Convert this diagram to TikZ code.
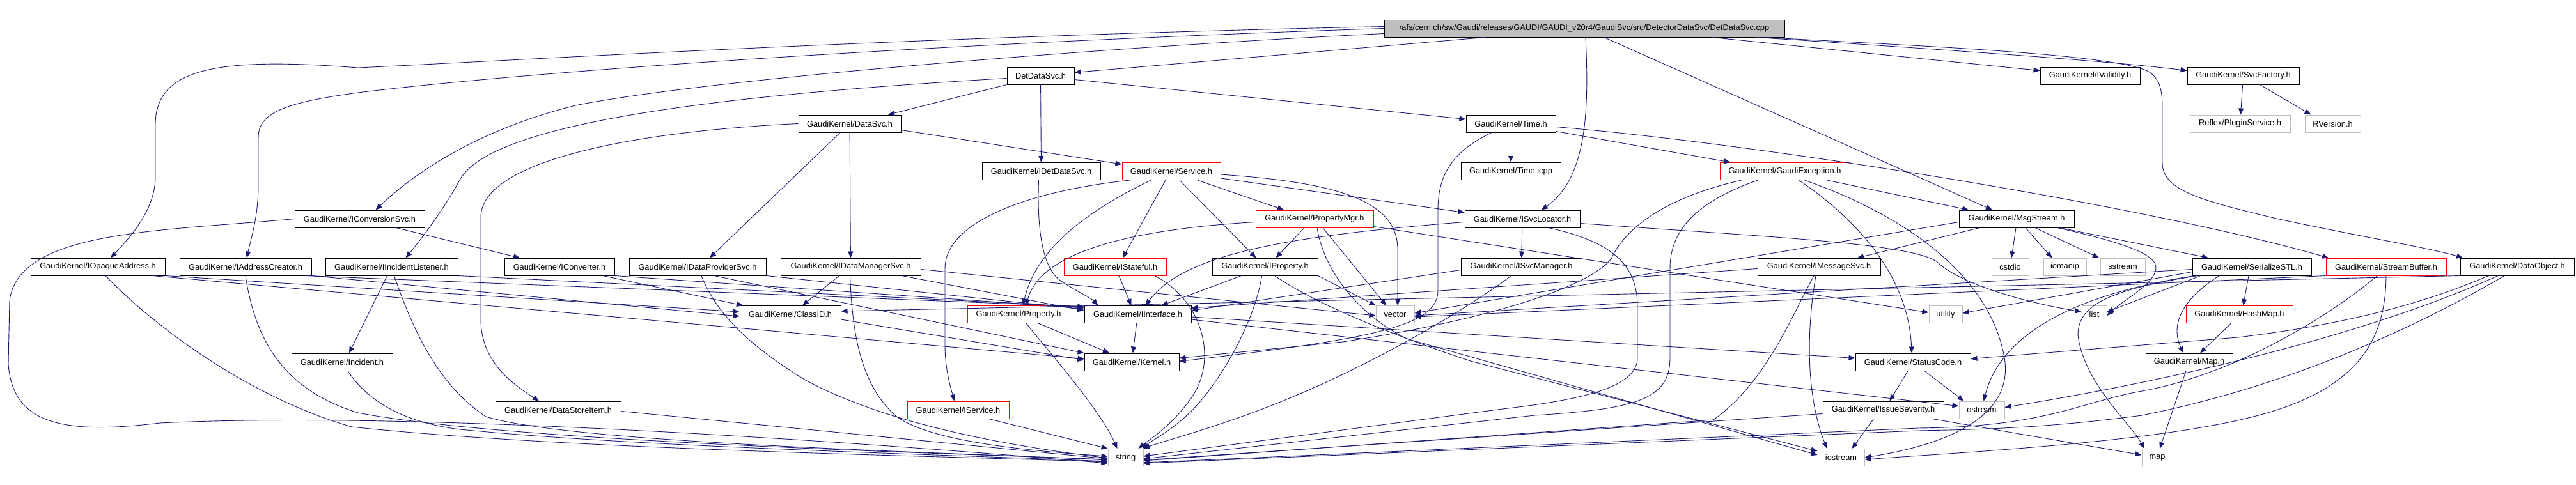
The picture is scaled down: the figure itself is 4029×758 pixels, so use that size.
\documentclass[tikz,border=0pt]{standalone}
\usepackage{fontspec}
\setmainfont{Liberation Sans}
\usetikzlibrary{arrows.meta}
\definecolor{edgeblue}{RGB}{25,25,112}
\definecolor{boxred}{RGB}{255,0,0}
\definecolor{boxgray}{RGB}{191,191,191}
\newcommand\dgfont{\fontsize{12.8}{14}\selectfont}
\tikzset{
 box/.style={draw=black, line width=1pt, rectangle, minimum height=27pt, inner sep=0pt, font=\dgfont},
 redbox/.style={box, draw=boxred},
 graybox/.style={box, draw=boxgray},
 edge/.style={draw=edgeblue, line width=0.9pt, -{Triangle[length=10pt,width=8pt]}},
}
\begin{document}
\begin{tikzpicture}[x=1pt,y=-1pt]
\useasboundingbox (0,0) rectangle (4029,758);
% row 0
\node[box,fill=boxgray,minimum width=626pt] (root) at (2478,44.5) {/afs/cern.ch/sw/Gaudi/releases/GAUDI/GAUDI\_v20r4/GaudiSvc/src/DetectorDataSvc/DetDataSvc.cpp};
% row 1
\node[box,minimum width=105pt] (detdatasvc) at (1627.5,118.5) {DetDataSvc.h};
\node[box,minimum width=156pt] (ivalidity) at (3269,118.5) {GaudiKernel/IValidity.h};
\node[box,minimum width=175pt] (svcfactory) at (3508.5,118.5) {GaudiKernel/SvcFactory.h};
% row 2
\node[box,minimum width=160pt] (datasvc) at (1329,193.5) {GaudiKernel/DataSvc.h};
\node[box,minimum width=140pt] (time) at (2363,193.5) {GaudiKernel/Time.h};
\node[graybox,minimum width=157pt] (plugin) at (3503.5,193.5) {Reflex/PluginService.h};
\node[graybox,minimum width=87pt] (rversion) at (3648.5,193.5) {RVersion.h};
% row 3
\node[box,minimum width=185pt] (idetdatasvc) at (1628.5,268) {GaudiKernel/IDetDataSvc.h};
\node[redbox,minimum width=154pt] (service) at (1832,268) {GaudiKernel/Service.h};
\node[box,minimum width=156pt] (timeicpp) at (2363,268) {GaudiKernel/Time.icpp};
\node[redbox,minimum width=203pt] (gaudiexc) at (2791.5,268) {GaudiKernel/GaudiException.h};
% row 4
\node[box,minimum width=203pt] (iconversion) at (562.5,342.5) {GaudiKernel/IConversionSvc.h};
\node[redbox,minimum width=184pt] (propertymgr) at (2056,342.5) {GaudiKernel/PropertyMgr.h};
\node[box,minimum width=180pt] (isvclocator) at (2381,342.5) {GaudiKernel/ISvcLocator.h};
\node[box,minimum width=180pt] (msgstream) at (3154,342.5) {GaudiKernel/MsgStream.h};
% row 5
\node[box,minimum width=210pt] (iopaque) at (153,417.5) {GaudiKernel/IOpaqueAddress.h};
\node[box,minimum width=206pt] (iaddress) at (384,417.5) {GaudiKernel/IAddressCreator.h};
\node[box,minimum width=207pt] (iincident) at (612.5,417.5) {GaudiKernel/IIncidentListener.h};
\node[box,minimum width=172pt] (iconverter) at (875,417.5) {GaudiKernel/IConverter.h};
\node[box,minimum width=214pt] (idataprov) at (1091,417.5) {GaudiKernel/IDataProviderSvc.h};
\node[box,minimum width=219pt] (idataman) at (1330.5,417.5) {GaudiKernel/IDataManagerSvc.h};
\node[redbox,minimum width=160pt] (istateful) at (1744,417.5) {GaudiKernel/IStateful.h};
\node[box,minimum width=165pt] (iproperty) at (1978.5,417.5) {GaudiKernel/IProperty.h};
\node[box,minimum width=189pt] (isvcman) at (2379.5,417.5) {GaudiKernel/ISvcManager.h};
\node[box,minimum width=192pt] (imessage) at (2845,417.5) {GaudiKernel/IMessageSvc.h};
\node[graybox,minimum width=58pt] (cstdio) at (3144,417.5) {cstdio};
\node[graybox,minimum width=67pt] (iomanip) at (3229.5,417.5) {iomanip};
\node[graybox,minimum width=70pt] (sstream) at (3320,417.5) {sstream};
\node[box,minimum width=186pt] (serialize) at (3522,417.5) {GaudiKernel/SerializeSTL.h};
\node[redbox,minimum width=188pt] (streambuf) at (3732,417.5) {GaudiKernel/StreamBuffer.h};
\node[box,minimum width=178pt] (dataobject) at (3937,417.5) {GaudiKernel/DataObject.h};
% row 6
\node[box,minimum width=158pt] (classid) at (1236,492) {GaudiKernel/ClassID.h};
\node[redbox,minimum width=160pt] (property) at (1593,492) {GaudiKernel/Property.h};
\node[box,minimum width=167pt] (iinterface) at (1779.5,492) {GaudiKernel/IInterface.h};
\node[graybox,minimum width=60pt] (vector) at (2182,492) {vector};
\node[graybox,minimum width=52pt] (utility) at (3043,492) {utility};
\node[graybox,minimum width=39pt] (list) at (3275.5,492) {list};
\node[redbox,minimum width=167pt] (hashmap) at (3502.5,492) {GaudiKernel/HashMap.h};
% row 7
\node[box,minimum width=158pt] (incident) at (535,566.5) {GaudiKernel/Incident.h};
\node[box,minimum width=148pt] (kernel) at (1770,566.5) {GaudiKernel/Kernel.h};
\node[box,minimum width=180pt] (statuscode) at (2992,566.5) {GaudiKernel/StatusCode.h};
\node[box,minimum width=136pt] (maph) at (3424,566.5) {GaudiKernel/Map.h};
% row 8
\node[box,minimum width=196pt] (datastore) at (873,641.5) {GaudiKernel/DataStoreItem.h};
\node[redbox,minimum width=159pt] (iservice) at (1498.5,641.5) {GaudiKernel/IService.h};
\node[box,minimum width=189pt] (issuesev) at (2945.5,641.5) {GaudiKernel/IssueSeverity.h};
\node[graybox,minimum width=71pt] (ostream) at (3099.5,641.5) {ostream};
% row 9
\node[graybox,minimum width=55pt] (string) at (1760.5,716) {string};
\node[graybox,minimum width=73pt] (iostream) at (2879.5,716) {iostream};
\node[graybox,minimum width=48pt] (map) at (3374,716) {map};

% ---- root
\draw[edge] ([yshift=3pt]root.west) .. controls (1400,58) and (800,95) .. (560,106) .. controls (330,88) and (245,110) .. (243,193) -- (243,277) .. controls (243,330) and (200,375) .. ([xshift=20pt]iopaque.north);
\draw[edge] (root.west) .. controls (1400,70) and (800,115) .. (560,145) .. controls (450,160) and (404,175) .. (404,215) -- (404,290) .. controls (404,340) and (392,375) .. ([xshift=2pt]iaddress.north);
\draw[edge] ([yshift=-8pt]root.west) .. controls (1700,75) and (1100,125) .. (900,165) .. controls (760,200) and (660,260) .. ([xshift=25pt]iconversion.north);
\draw[edge] ([xshift=-156pt]root.south) -- ([yshift=5pt]detdatasvc.east);
\draw[edge] ([xshift=2pt]root.south) .. controls (2486,180) and (2480,280) .. ([xshift=30pt]isvclocator.north);
\draw[edge] ([xshift=31pt]root.south) -- ([xshift=-38pt]msgstream.north);
\draw[edge] ([xshift=200pt]root.south) -- ([yshift=8pt]ivalidity.west);
\draw[edge] ([xshift=270pt]root.south) .. controls (3000,75) and (3300,95) .. ([yshift=8pt]svcfactory.west);
\draw[edge] ([xshift=283pt]root.south) .. controls (3000,72) and (3330,85) .. (3365,115) .. controls (3382,130) and (3382,150) .. (3382,180) -- (3382,255) .. controls (3382,300) and (3450,315) .. (3560,342) .. controls (3700,372) and (3800,388) .. ([xshift=-85pt]dataobject.north);
% ---- DetDataSvc
\draw[edge] (detdatasvc.south west) -- ([xshift=60pt]datasvc.north);
\draw[edge] (detdatasvc) -- (idetdatasvc);
\draw[edge] ([yshift=-6pt]detdatasvc.east) -- ([yshift=7pt]time.west);
\draw[edge] ([yshift=-4pt]detdatasvc.west) .. controls (1100,150) and (770,195) .. (720,280) .. controls (690,335) and (650,385) .. ([xshift=22pt]iincident.north);
% ---- DataSvc
\draw[edge] (datasvc.west) .. controls (1000,205) and (752,250) .. (752,340) -- (752,500) .. controls (752,565) and (800,600) .. ([xshift=-30pt]datastore.north);
\draw[edge] ([xshift=-15pt]datasvc.south) -- ([xshift=19pt]idataprov.north);
\draw[edge] (datasvc) -- (idataman);
\draw[edge] ([yshift=-10pt]datasvc.east) -- ([yshift=11pt]service.west);
% ---- SvcFactory
\draw[edge] (svcfactory) -- (plugin);
\draw[edge] ([xshift=26pt]svcfactory.south) -- ([xshift=-34pt]rversion.north);
% ---- Time
\draw[edge] (time) -- (timeicpp);
\draw[edge] ([yshift=-12pt]time.east) -- ([xshift=-85pt]gaudiexc.north);
\draw[edge] ([yshift=-5pt]time.east) .. controls (2750,225) and (3350,320) .. ([xshift=-90pt]streambuf.north);
\draw[edge] ([xshift=-30pt]time.south) .. controls (2265,240) and (2249,280) .. (2249,330) -- (2249,455) .. controls (2249,510) and (2150,530) .. ([yshift=1pt]kernel.east);
% ---- IDetDataSvc
\draw[edge] ([xshift=-4pt]idetdatasvc.south) .. controls (1622,350) and (1628,420) .. (1660,440) .. controls (1685,457) and (1705,465) .. ([xshift=-62pt]iinterface.north);
% ---- Service
\draw[edge] ([xshift=-65pt]service.south) .. controls (1600,300) and (1478,350) .. (1478,420) -- (1478,540) .. controls (1478,580) and (1488,610) .. ([xshift=-6pt]iservice.north);
\draw[edge] ([xshift=-32pt]service.south) .. controls (1700,330) and (1620,390) .. ([xshift=7pt]property.north);
\draw[edge] ([xshift=-9pt]service.south) -- ([xshift=12pt]istateful.north);
\draw[edge] ([xshift=13pt]service.south) -- ([xshift=-14pt]iproperty.north);
\draw[edge] ([xshift=41pt]service.south) -- ([xshift=-48pt]propertymgr.north);
\draw[edge] ([yshift=-5pt]service.east) .. controls (2080,285) and (2186,310) .. (2186,390) -- ([xshift=4pt]vector.north);
\draw[edge] ([yshift=-11pt]service.east) -- ([yshift=10pt]isvclocator.west);
% ---- PropertyMgr
\draw[edge] ([yshift=-5pt]propertymgr.west) .. controls (1750,360) and (1625,400) .. ([xshift=12pt]property.north);
\draw[edge] ([xshift=-16pt]propertymgr.south) -- ([xshift=17pt]iproperty.north);
\draw[edge] ([xshift=13pt]propertymgr.south) -- ([xshift=-14pt]vector.north);
\draw[edge] ([xshift=4pt]propertymgr.south) .. controls (2070,420) and (2120,490) .. (2200,530) -- ([yshift=4pt]iostream.west);
\draw[edge] ([yshift=-12pt]propertymgr.east) -- ([yshift=3pt]utility.west);
% ---- ISvcLocator
\draw[edge] (isvclocator) -- (isvcman);
\draw[edge] ([yshift=-5pt]isvclocator.west) .. controls (2000,370) and (1850,400) .. ([xshift=12pt]iinterface.north);
\draw[edge] ([xshift=41pt]isvclocator.south) .. controls (2530,380) and (2561,420) .. (2561,480) -- (2561,560) .. controls (2561,605) and (2480,625) .. (2350,640) -- ([yshift=2pt]string.east);
\draw[edge] ([yshift=-7pt]isvclocator.east) .. controls (2750,370) and (2990,380) .. (3030,410) .. controls (3060,440) and (3150,470) .. ([yshift=4pt]list.west);
% ---- GaudiException
\draw[edge] ([xshift=66pt]gaudiexc.south) -- ([xshift=-75pt]msgstream.north);
\draw[edge] ([xshift=22pt]gaudiexc.south) .. controls (2900,340) and (2985,430) .. ([xshift=-2pt]statuscode.north);
\draw[edge] ([xshift=31pt]gaudiexc.south) .. controls (2960,330) and (3110,420) .. (3135,560) .. controls (3150,650) and (3050,695) .. (iostream.east);
\draw[edge] ([xshift=-42pt]gaudiexc.south) .. controls (2640,320) and (2612,370) .. (2612,420) -- (2612,560) .. controls (2612,625) and (2560,640) .. (2400,650) -- ([yshift=-2pt]string.east);
\draw[edge] ([xshift=-68pt]gaudiexc.south) .. controls (2600,310) and (2540,360) .. (2520,405) .. controls (2480,455) and (2300,505) .. (2100,535) -- ([yshift=6pt]kernel.east);
% ---- MsgStream
\draw[edge] ([xshift=-58pt]msgstream.south) -- ([xshift=60pt]imessage.north);
\draw[edge] ([xshift=-1pt]msgstream.south) -- (cstdio);
\draw[edge] ([xshift=14pt]msgstream.south) -- ([xshift=-20pt]iomanip.north);
\draw[edge] ([xshift=29pt]msgstream.south) -- ([xshift=-37pt]sstream.north);
\draw[edge] ([xshift=68pt]msgstream.south) -- ([xshift=-68pt]serialize.north);
\draw[edge] ([yshift=-5pt]msgstream.west) -- ([yshift=2pt]vector.east);
\draw[edge] ([xshift=64pt]msgstream.south) .. controls (3300,375) and (3375,395) .. (3372,420) .. controls (3370,445) and (3320,470) .. ([yshift=-2pt]list.east);
% ---- SerializeSTL
\draw[edge] ([xshift=-5pt]serialize.south) -- ([xshift=6pt]hashmap.north);
\draw[edge] ([xshift=-51pt]serialize.south) .. controls (3410,470) and (3395,510) .. ([xshift=-9pt]maph.north);
\draw[edge] ([xshift=-90pt]serialize.south) .. controls (3250,460) and (3130,520) .. ([xshift=3pt]ostream.north);
\draw[edge] ([xshift=-80pt]serialize.south) -- ([yshift=4pt]list.east);
\draw[edge] ([yshift=-8pt]serialize.west) -- ([yshift=2pt]utility.east);
\draw[edge] ([yshift=-4pt]serialize.west) -- ([yshift=-2pt]vector.east);
\draw[edge] ([xshift=-85pt]serialize.south) .. controls (3290,455) and (3250,480) .. (3250,525) .. controls (3260,600) and (3330,660) .. ([xshift=-20pt]map.north);
% ---- StreamBuffer
\draw[edge] (streambuf.south) .. controls (3731,520) and (3700,600) .. (3550,645) .. controls (3400,690) and (3100,706) .. ([yshift=-3pt]iostream.east);
\draw[edge] ([xshift=-14pt]streambuf.south) .. controls (3650,490) and (3500,585) .. (3350,612) .. controls (3250,630) and (3200,668) .. (3000,670) -- ([yshift=-8pt]string.east);
\draw[edge] (streambuf.south west) -- ([yshift=-4pt]vector.east);
% ---- DataObject
\draw[edge] (dataobject.south west) -- ([yshift=5pt]classid.east);
\draw[edge] ([xshift=-45pt]dataobject.south) .. controls (3780,480) and (3650,510) .. (3500,528) -- ([yshift=5pt]statuscode.east);
\draw[edge] ([xshift=-30pt]dataobject.south) .. controls (3700,525) and (3400,595) .. ([yshift=4pt]ostream.east);
\draw[edge] ([xshift=-20pt]dataobject.south) .. controls (3800,500) and (3600,600) .. (3350,650) .. controls (3200,670) and (3100,672) .. (3000,674) -- ([yshift=-9pt]string.east);
% ---- IssueSeverity, StatusCode, HashMap, Map
\draw[edge] ([yshift=-6pt]issuesev.west) -- ([yshift=-4pt]string.east);
\draw[edge] ([xshift=-15pt]issuesev.south) -- ([xshift=17pt]iostream.north);
\draw[edge] ([xshift=77pt]issuesev.south) -- ([yshift=4pt]map.west);
\draw[edge] ([xshift=-8pt]statuscode.south) -- ([xshift=10pt]issuesev.north);
\draw[edge] ([xshift=18pt]statuscode.south) -- ([xshift=-28pt]ostream.north);
\draw[edge] ([xshift=-13pt]hashmap.south) -- ([xshift=17pt]maph.north);
\draw[edge] ([xshift=-5pt]maph.south) -- ([xshift=4pt]map.north);
% ---- IInterface, Property, IService, IStateful, IProperty
\draw[edge] (iinterface) -- (kernel);
\draw[edge] ([yshift=-4pt]iinterface.east) -- ([yshift=6pt]statuscode.west);
\draw[edge] ([yshift=-8pt]iinterface.east) -- ([yshift=6pt]ostream.west);
\draw[edge] ([xshift=31pt]property.south) -- ([xshift=-35pt]kernel.north);
\draw[edge] ([xshift=12pt]property.south) .. controls (1640,550) and (1720,640) .. ([xshift=-13pt]string.north);
\draw[edge] ([xshift=48pt]iservice.south) -- (string.north west);
\draw[edge] ([xshift=6pt]istateful.south) -- ([xshift=-10pt]iinterface.north);
\draw[edge] ([xshift=62pt]istateful.south) .. controls (1880,470) and (1905,560) .. (1865,620) .. controls (1835,665) and (1795,690) .. ([xshift=20pt]string.north);
\draw[edge] ([xshift=-37pt]iproperty.south) -- ([xshift=37pt]iinterface.north);
\draw[edge] ([xshift=-5pt]iproperty.south) .. controls (1965,490) and (1925,570) .. (1880,625) .. controls (1845,668) and (1800,690) .. ([xshift=-2pt]string.north east);
\draw[edge] (iproperty.south east) -- (vector.north west);
\draw[edge] ([xshift=15pt]iproperty.south) .. controls (2050,470) and (2150,515) .. (2300,565) -- ([yshift=10pt]iostream.west);
% ---- IDataManagerSvc
\draw[edge] ([xshift=-18pt]idataman.south) -- ([xshift=19pt]classid.north);
\draw[edge] ([xshift=80pt]idataman.south) -- ([yshift=6pt]iinterface.west);
\draw[edge] ([xshift=-1pt]idataman.south) .. controls (1333,520) and (1345,600) .. (1400,650) .. controls (1450,690) and (1600,705) .. ([yshift=2pt]string.west);
\draw[edge] ([yshift=-4pt]idataman.east) -- ([yshift=-2pt]vector.west);
% ---- IDataProviderSvc
\draw[edge] (idataprov.south east) -- ([yshift=8pt]iinterface.west);
\draw[edge] ([xshift=26pt]idataprov.south) -- (kernel.north west);
\draw[edge] ([xshift=6pt]idataprov.south) .. controls (1120,490) and (1170,540) .. (1260,595) .. controls (1400,670) and (1600,700) .. ([yshift=-1pt]string.west);
% ---- IConverter
\draw[edge] ([xshift=68pt]iconverter.south) -- ([xshift=-74pt]classid.north);
\draw[edge] (iconverter.south east) -- ([yshift=10pt]iinterface.west);
% ---- IIncidentListener, Incident
\draw[edge] ([xshift=-7pt]iincident.south) -- ([xshift=11pt]incident.north);
\draw[edge] (iincident.south east) -- ([yshift=12pt]iinterface.west);
\draw[edge] ([xshift=4pt]iincident.south) .. controls (640,500) and (680,600) .. (760,652) .. controls (900,695) and (1500,708) .. ([yshift=-4pt]string.west);
\draw[edge] ([xshift=9pt]incident.south) .. controls (570,620) and (620,660) .. (720,672) .. controls (1000,700) and (1500,712) .. ([yshift=-6pt]string.west);
% ---- IOpaqueAddress, IAddressCreator
\draw[edge] ([xshift=12pt]iopaque.south) .. controls (250,520) and (400,625) .. (550,668) .. controls (900,705) and (1500,714) .. ([yshift=-7pt]string.west);
\draw[edge] (iopaque.south east) -- ([yshift=4pt]classid.west);
\draw[edge] ([xshift=-20pt]iopaque.south east) -- ([yshift=5pt]kernel.west);
\draw[edge] (iaddress.south) .. controls (400,540) and (450,612) .. (560,646) .. controls (800,692) and (1500,710) .. ([yshift=-3pt]string.west);
\draw[edge] (iaddress.south east) -- ([yshift=-3pt]classid.west);
\draw[edge] ([xshift=-10pt]iaddress.south east) -- ([yshift=12pt]iinterface.west);
% ---- ClassID, DataStoreItem, IConversionSvc
\draw[edge] ([yshift=-8pt]classid.east) -- ([yshift=3pt]kernel.west);
\draw[edge] ([yshift=-2pt]datastore.east) -- ([yshift=-2pt]string.west);
\draw[edge] ([xshift=57pt]iconversion.south) -- ([xshift=-62pt]iconverter.north);
\draw[edge] (iconversion.west) .. controls (250,362) and (30,360) .. (15,470) -- (13,570) .. controls (20,665) and (100,680) .. (250,662) .. controls (700,640) and (1500,705) .. ([yshift=-9pt]string.west);
% ---- IMessageSvc, ISvcManager
\draw[edge] ([xshift=-5pt]imessage.south) .. controls (2825,520) and (2825,620) .. ([xshift=-22pt]iostream.north);
\draw[edge] ([xshift=-8pt]imessage.south) .. controls (2800,500) and (2760,600) .. (2680,657) -- ([yshift=-5pt]string.east);
\draw[edge] ([yshift=-3pt]imessage.west) -- ([yshift=10pt]iinterface.east);
\draw[edge] ([yshift=-5pt]isvcman.west) -- ([yshift=6pt]iinterface.east);
\draw[edge] ([xshift=-16pt]isvcman.south) .. controls (2300,480) and (2150,570) .. (2000,630) .. controls (1900,670) and (1820,690) .. (string.north east);
\end{tikzpicture}
\end{document}
